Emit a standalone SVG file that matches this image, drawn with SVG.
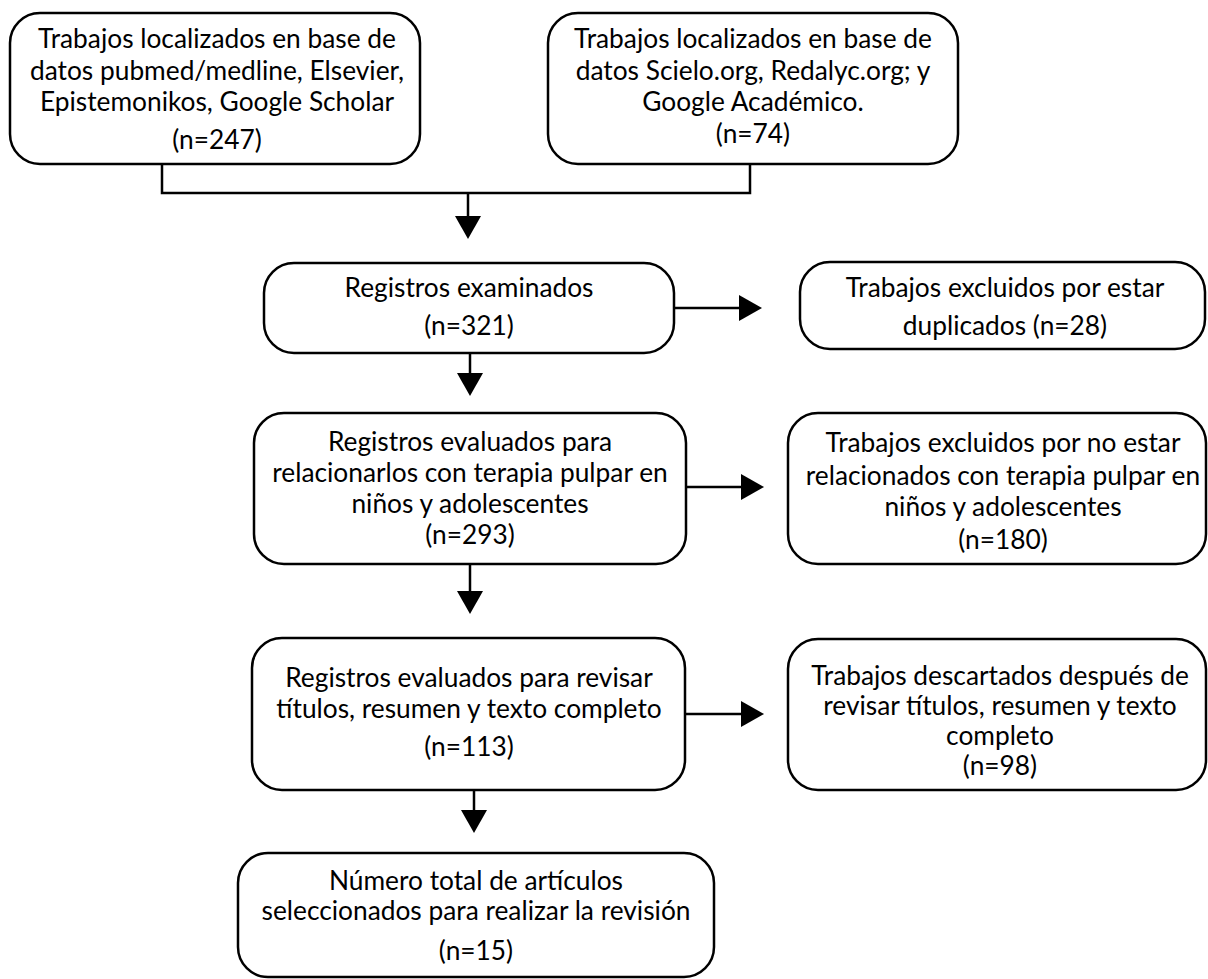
<svg xmlns="http://www.w3.org/2000/svg" width="1208" height="979" viewBox="0 0 1208 979">
<defs>
<style>
.box{fill:#fff;stroke:#000;stroke-width:2.5}
.t{font-family:Lato,"Open Sans","Liberation Sans",sans-serif;font-size:26.3px;fill:#000;text-anchor:middle}
.c{fill:none;stroke:#000;stroke-width:2.5}
.ah{fill:#000;stroke:none}
</style>
</defs>
<rect width="1208" height="979" fill="#fff"/>
<g id="connectors">
<path class="c" d="M162 164 V193 H750 V164"/>
<path class="c" d="M468 193 V218"/>
<polygon class="ah" points="455,216 481,216 468,239"/>
<path class="c" d="M674 308 H740"/>
<polygon class="ah" points="739,295 739,321 762,308"/>
<path class="c" d="M470 353 V375"/>
<polygon class="ah" points="457,373 483,373 470,396"/>
<path class="c" d="M686 487 H742"/>
<polygon class="ah" points="741,474 741,500 764,487"/>
<path class="c" d="M470 564 V593"/>
<polygon class="ah" points="457,591 483,591 470,614"/>
<path class="c" d="M685 714 H742"/>
<polygon class="ah" points="741,701 741,727 764,714"/>
<path class="c" d="M474 790 V811"/>
<polygon class="ah" points="461,810 487,810 474,833"/>
</g>
<g id="n1">
<rect class="box" x="10" y="13" width="410" height="151" rx="30"/>
<text class="t" x="217" y="48">Trabajos localizados en base de</text>
<text class="t" x="217" y="80">datos pubmed/medline, Elsevier,</text>
<text class="t" x="217" y="111">Epistemonikos, Google Scholar</text>
<text class="t" x="217" y="149">(n=247)</text>
</g>
<g id="n2">
<rect class="box" x="548" y="13" width="410" height="151" rx="30"/>
<text class="t" x="753" y="48">Trabajos localizados en base de</text>
<text class="t" x="753" y="80">datos Scielo.org, Redalyc.org; y</text>
<text class="t" x="753" y="111">Google Académico.</text>
<text class="t" x="753" y="143">(n=74)</text>
</g>
<g id="n3">
<rect class="box" x="264" y="263" width="410" height="90" rx="30"/>
<text class="t" x="469" y="297">Registros examinados</text>
<text class="t" x="469" y="335">(n=321)</text>
</g>
<g id="n4">
<rect class="box" x="800" y="262" width="405" height="87" rx="30"/>
<text class="t" x="1005" y="297">Trabajos excluidos por estar</text>
<text class="t" x="1005" y="335">duplicados (n=28)</text>
</g>
<g id="n5">
<rect class="box" x="254" y="413" width="432" height="151" rx="30"/>
<text class="t" x="470" y="451">Registros evaluados para</text>
<text class="t" x="470" y="482">relacionarlos con terapia pulpar en</text>
<text class="t" x="470" y="513">niños y adolescentes</text>
<text class="t" x="470" y="544">(n=293)</text>
</g>
<g id="n6">
<rect class="box" x="788" y="413" width="418" height="151" rx="30"/>
<text class="t" x="1003" y="452">Trabajos excluidos por no estar</text>
<text class="t" x="1003" y="485">relacionados con terapia pulpar en</text>
<text class="t" x="1003" y="516">niños y adolescentes</text>
<text class="t" x="1003" y="549">(n=180)</text>
</g>
<g id="n7">
<rect class="box" x="252" y="638" width="433" height="152" rx="30"/>
<text class="t" x="469" y="687">Registros evaluados para revisar</text>
<text class="t" x="469" y="718">títulos, resumen y texto completo</text>
<text class="t" x="469" y="756">(n=113)</text>
</g>
<g id="n8">
<rect class="box" x="788" y="639" width="418" height="151" rx="30"/>
<text class="t" x="1000" y="685">Trabajos descartados después de</text>
<text class="t" x="1000" y="715">revisar títulos, resumen y texto</text>
<text class="t" x="1000" y="745">completo</text>
<text class="t" x="1000" y="775">(n=98)</text>
</g>
<g id="n9">
<rect class="box" x="238" y="853" width="476" height="124" rx="30"/>
<text class="t" x="476" y="890">Número total de artículos</text>
<text class="t" x="476" y="920">seleccionados para realizar la revisión</text>
<text class="t" x="476" y="960">(n=15)</text>
</g>
</svg>
